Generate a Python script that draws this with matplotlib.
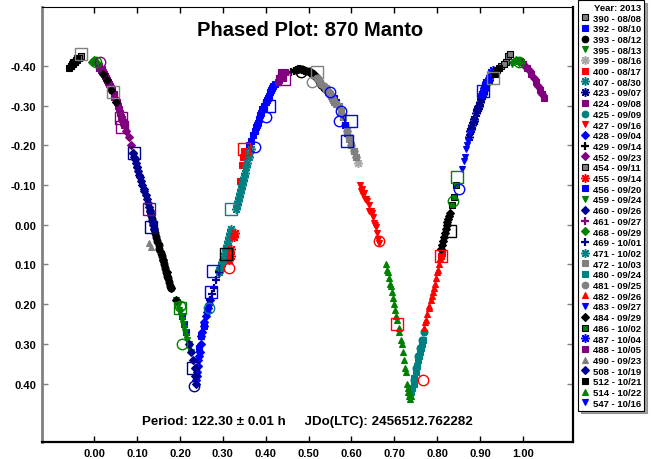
import matplotlib

matplotlib.use("Agg")
import matplotlib.pyplot as plt
from matplotlib.ticker import FormatStrFormatter

plt.rcParams["font.family"] = ["Liberation Sans", "DejaVu Sans"]
plt.rcParams["font.weight"] = "bold"

TITLE = "Phased Plot: 870 Manto"
NOTE = "Period: 122.30 \u00b1 0.01 h     JDo(LTC): 2456512.762282"
LEGEND_TITLE = "Year: 2013"

# session number -> observing date
sessions = ["390", "392", "393", "395", "399", "400", "407", "423", "424", "425",
            "427", "428", "429", "452", "454", "455", "456", "459", "460", "461",
            "468", "469", "471", "472", "480", "481", "482", "483", "484", "486",
            "487", "488", "490", "508", "512", "514", "547"]
dates = ["08/08", "08/10", "08/12", "08/13", "08/16", "08/17", "08/30", "09/07", "09/08", "09/09",
         "09/16", "09/04", "09/14", "09/23", "09/11", "09/14", "09/20", "09/24", "09/26", "09/27",
         "09/29", "10/01", "10/02", "10/03", "09/24", "09/25", "09/26", "09/27", "09/29", "10/02",
         "10/04", "10/05", "09/23", "10/19", "10/21", "10/22", "10/16"]

# phase / magnitude readings per session
p390 = [-0.032, -0.036, -0.040, 0.960, 0.965, 0.970]
m390 = [-0.425, -0.420, -0.415, -0.410, -0.425, -0.430]
p392 = [0.205, 0.210, 0.215, 0.245, 0.250, 0.255, 0.380, 0.385, 0.390, 0.395, 0.400, 0.405, 0.410, 0.415,
        0.382, 0.387, 0.392, 0.397, 0.402, 0.407, 0.412, 0.418, 0.422, 0.362, 0.366, 0.370, 0.374, 0.378]
m392 = [0.230, 0.250, 0.270, 0.310, 0.280, 0.255, -0.250, -0.265, -0.280, -0.295, -0.310, -0.320, -0.335, -0.345,
        -0.255, -0.275, -0.290, -0.300, -0.315, -0.325, -0.340, -0.350, -0.355, -0.200, -0.210, -0.225, -0.235, -0.245]
p393 = [0.130, 0.135, 0.140, 0.145, 0.150, 0.155, 0.160, 0.165, 0.170, 0.175, 0.180,
        0.132, 0.137, 0.142, 0.147, 0.152, 0.157, 0.162, 0.167, 0.172, 0.177,
        0.470, 0.480, 0.490, 0.500, 0.505, 0.510, 0.515, 0.520, 0.525, 0.530, 0.535,
        0.475, 0.485, 0.495, 0.5025, 0.5075, 0.5125, 0.5175, 0.5225, 0.5275]
m393 = [-0.035, -0.015, 0.010, 0.030, 0.050, 0.070, 0.090, 0.110, 0.130, 0.145, 0.160,
        -0.025, -0.005, 0.020, 0.040, 0.060, 0.080, 0.100, 0.120, 0.135, 0.155,
        -0.390, -0.392, -0.390, -0.386, -0.383, -0.380, -0.375, -0.370, -0.362, -0.352, -0.345,
        -0.392, -0.392, -0.388, -0.385, -0.382, -0.378, -0.372, -0.366, -0.357]
p395 = [0.190, 0.195, 0.200, 0.205, 0.210, 0.215, 0.220, 0.225, 0.192, 0.197, 0.202, 0.207, 0.212, 0.217, 0.222]
m395 = [0.190, 0.205, 0.220, 0.240, 0.260, 0.280, 0.300, 0.320, 0.195, 0.215, 0.230, 0.250, 0.270, 0.290, 0.310]
p399 = [0.585, 0.590, 0.595, 0.600, 0.605, 0.610, 0.615]
m399 = [-0.250, -0.235, -0.220, -0.200, -0.185, -0.170, -0.155]
p400 = [0.340, 0.345, 0.348, 0.350, 0.808, 0.812]
m400 = [-0.110, -0.150, -0.170, -0.185, 0.080, 0.070]
p407 = [0.290, 0.295, 0.300, 0.305, 0.310, 0.315, 0.320, 0.292, 0.297, 0.302, 0.307, 0.312, 0.317]
m407 = [0.120, 0.105, 0.090, 0.070, 0.050, 0.030, 0.010, 0.115, 0.095, 0.080, 0.060, 0.040, 0.020]
p423 = [0.875, 0.880, 0.885, 0.890, 0.895, 0.900, 0.905, 0.910, 0.915, 0.920,
        0.877, 0.882, 0.887, 0.892, 0.897, 0.902, 0.907, 0.912]
m423 = [-0.220, -0.240, -0.260, -0.280, -0.295, -0.310, -0.325, -0.340, -0.355, -0.365,
        -0.235, -0.250, -0.265, -0.290, -0.300, -0.320, -0.330, -0.350]
p424 = [0.010, 0.015, 0.020, 0.025, 0.030, 0.035, 0.040, 0.045, 0.050, 0.055, 0.060, 0.065, 0.070,
        0.012, 0.017, 0.022, 0.027, 0.032, 0.037, 0.042, 0.047, 0.052, 0.057, 0.062, 0.067,
        0.430, 0.435, 0.440, 1.010, 1.020, 1.030, 1.040, 1.050]
m424 = [-0.400, -0.390, -0.385, -0.375, -0.365, -0.355, -0.345, -0.330, -0.315, -0.300, -0.280, -0.265, -0.250,
        -0.395, -0.392, -0.380, -0.370, -0.360, -0.350, -0.340, -0.322, -0.308, -0.290, -0.272, -0.258,
        -0.365, -0.385, -0.370, -0.395, -0.380, -0.360, -0.340, -0.320]
p425 = [0.745, 0.750, 0.755, 0.760, 0.765, 0.770]
m425 = [0.390, 0.360, 0.330, 0.310, 0.290, 0.270]
p427 = [0.620, 0.625, 0.630, 0.635, 0.640, 0.645, 0.650, 0.655, 0.660,
        0.622, 0.627, 0.632, 0.637, 0.642, 0.647, 0.652, 0.657, 0.662, 0.665]
m427 = [-0.100, -0.090, -0.080, -0.065, -0.050, -0.035, -0.020, 0.000, 0.020,
        -0.085, -0.075, -0.065, -0.060, -0.035, -0.030, -0.005, 0.005, 0.035, 0.045]
p428 = [0.238, 0.240, 0.243, 0.246, 0.250, 0.255, 0.260, 0.265, 0.270,
        0.239, 0.242, 0.245, 0.248, 0.252, 0.257, 0.262, 0.267]
m428 = [0.390, 0.370, 0.340, 0.320, 0.280, 0.255, 0.230, 0.210, 0.190,
        0.380, 0.355, 0.330, 0.300, 0.270, 0.245, 0.220, 0.200]
p429 = [0.460, 0.465, 0.470, 0.475, 0.480, 0.485, 0.490]
m429 = [-0.385, -0.388, -0.390, -0.392, -0.392, -0.390, -0.388]
p452 = [0.070, 0.075, 0.080, 0.085, 0.090, 0.095, 0.100, 1.000, 1.005, 1.015, 1.025, 1.035, 1.045]
m452 = [-0.250, -0.235, -0.220, -0.200, -0.180, -0.165, -0.145, -0.405, -0.400, -0.390, -0.370, -0.350, -0.330]
p454 = [-0.055, -0.050, -0.045, 0.950, 0.955]
m454 = [-0.400, -0.405, -0.410, -0.400, -0.405]
p455 = [0.315, 0.318, 0.320, 0.325, 0.328]
m455 = [0.090, 0.080, 0.060, 0.030, 0.020]
p456 = [0.560, 0.565, 0.570, 0.575, 0.580, 0.585, 0.590]
m456 = [-0.320, -0.310, -0.300, -0.285, -0.270, -0.250, -0.230]
p459 = [0.975, 0.980, 0.985, 0.990, 0.995, 0.000, 0.005]
m459 = [-0.405, -0.410, -0.412, -0.412, -0.410, -0.410, -0.405]
p460 = [0.090, 0.095, 0.100, 0.105, 0.110, 0.115, 0.120, 0.125, 0.130, 0.135, 0.140,
        0.092, 0.097, 0.102, 0.107, 0.112, 0.117, 0.122, 0.127, 0.132, 0.137]
m460 = [-0.180, -0.165, -0.145, -0.125, -0.110, -0.090, -0.075, -0.055, -0.035, -0.010, 0.010,
        -0.170, -0.155, -0.135, -0.120, -0.100, -0.085, -0.065, -0.045, -0.025, 0.000]
p461 = [1.000, 1.010, 1.020, 1.030, 1.040, 1.045, 0.005, 0.015, 0.025]
m461 = [-0.410, -0.395, -0.385, -0.365, -0.345, -0.335, -0.405, -0.395, -0.380]
p468 = [-0.005, 0.000, 0.005, 0.985, 0.990]
m468 = [-0.410, -0.415, -0.410, -0.415, -0.410]
p469 = [0.270, 0.275, 0.280, 0.285, 0.290]
m469 = [0.190, 0.175, 0.160, 0.140, 0.120]
p471 = [0.330, 0.335, 0.340, 0.345, 0.350, 0.355, 0.360, 0.365, 0.332, 0.337, 0.342, 0.347, 0.352, 0.357, 0.362]
m471 = [-0.040, -0.060, -0.080, -0.100, -0.120, -0.145, -0.170, -0.190, -0.050, -0.070, -0.090, -0.110, -0.130, -0.155, -0.180]
p472 = [0.540, 0.545, 0.550, 0.555, 0.560, 0.570, 0.580, 0.600, 0.610,
        0.542, 0.547, 0.552, 0.557, 0.565, 0.575, 0.590, 0.595, 0.605]
m472 = [-0.345, -0.335, -0.330, -0.320, -0.310, -0.300, -0.270, -0.200, -0.170,
        -0.340, -0.332, -0.325, -0.315, -0.305, -0.285, -0.235, -0.215, -0.185]
p480 = [0.740, 0.745, 0.750, 0.755, 0.760, 0.765, 0.295, 0.300, 0.742, 0.747, 0.752, 0.757, 0.762, 0.767]
m480 = [0.420, 0.400, 0.370, 0.340, 0.320, 0.300, 0.110, 0.090, 0.410, 0.385, 0.355, 0.330, 0.310, 0.290]
p481 = [0.520, 0.525, 0.530, 0.535, 0.540]
m481 = [-0.370, -0.365, -0.355, -0.350, -0.340]
p482 = [0.770, 0.775, 0.780, 0.785, 0.790, 0.795, 0.800, 0.805, 0.810,
        0.772, 0.777, 0.782, 0.787, 0.792, 0.797, 0.802, 0.807]
m482 = [0.260, 0.240, 0.210, 0.190, 0.170, 0.150, 0.120, 0.100, 0.070,
        0.245, 0.225, 0.205, 0.180, 0.160, 0.135, 0.115, 0.085]
p483 = [0.858, 0.862, 0.868, 0.872]
m483 = [-0.140, -0.160, -0.190, -0.210]
p484 = [0.810, 0.814, 0.818, 0.822, 0.826, 0.830, 0.812, 0.816, 0.820, 0.824, 0.828,
        0.160, 0.170, 0.180, 0.190, 0.020, 0.030, 0.040, 0.050]
m484 = [0.060, 0.040, 0.020, 0.000, -0.015, -0.030, 0.050, 0.030, 0.010, -0.008, -0.022,
        0.090, 0.120, 0.160, 0.190, -0.380, -0.365, -0.340, -0.310]
p486 = [0.835, 0.840, 0.845]
m486 = [-0.050, -0.070, -0.100]
p487 = [0.905, 0.910, 0.915, 0.920, 0.925, 0.930]
m487 = [-0.330, -0.345, -0.360, -0.370, -0.385, -0.390]
p488 = [0.428, 0.432, 0.436, 0.440, 0.444]
m488 = [-0.360, -0.370, -0.375, -0.380, -0.385]
p490 = [0.128, 0.132]
m490 = [0.045, 0.055]
p508 = [0.222, 0.226, 0.230, 0.234, 0.236, 0.238]
m508 = [0.300, 0.320, 0.340, 0.360, 0.380, 0.400]
p512 = [-0.058, -0.055, -0.052, -0.049, -0.046, -0.043, -0.040, 0.935, 0.940, 0.945]
m512 = [-0.395, -0.400, -0.405, -0.410, -0.410, -0.415, -0.420, -0.380, -0.390, -0.395]
p514 = [0.680, 0.685, 0.690, 0.695, 0.700, 0.705, 0.710, 0.715, 0.720, 0.725, 0.730, 0.733, 0.736, 0.739,
        0.682, 0.687, 0.692, 0.697, 0.702, 0.707, 0.712, 0.717, 0.722, 0.727, 0.731, 0.734, 0.737]
m514 = [0.100, 0.120, 0.150, 0.170, 0.200, 0.230, 0.260, 0.290, 0.320, 0.360, 0.400, 0.420, 0.440, 0.430,
        0.115, 0.135, 0.155, 0.185, 0.215, 0.240, 0.270, 0.300, 0.340, 0.370, 0.410, 0.430, 0.425]
p547 = [0.864, 0.870, 0.876]
m547 = [-0.170, -0.200, -0.230]

# larger open symbols (session, phase, mag)
ring_session = ["452", "468", "395", "425", "508", "455", "392", "392", "393", "481",
                "392", "392", "392", "427", "427", "486", "392", "468", "468"]
ring_phase = [0.013, 0.003, 0.205, 0.267, 0.233, 0.314, 0.400, 0.376, 0.482, 0.509,
              0.551, 0.575, 0.572, 0.664, 0.766, 0.838, 0.850, 0.990, 0.200]
ring_mag = [-0.410, -0.410, 0.300, 0.210, 0.405, 0.110, -0.270, -0.195, -0.384, -0.360,
            -0.333, -0.286, -0.260, 0.040, 0.390, -0.060, -0.090, -0.410, 0.205]
box_session = ["454", "424", "424", "460", "424", "460", "395", "508", "392", "392",
               "512", "480", "400", "488", "392", "454", "392", "392", "400", "486",
               "512", "392", "454", "400", "390"]
box_phase = [0.044, 0.062, 0.065, 0.093, 0.128, 0.132, 0.200, 0.230, 0.272, 0.277,
             0.307, 0.318, 0.350, 0.442, 0.407, 0.520, 0.598, 0.590, 0.707, 0.847,
             0.830, 0.908, 0.930, 0.810, -0.031]
box_mag = [-0.335, -0.268, -0.245, -0.180, -0.040, 0.006, 0.210, 0.360, 0.170, 0.117,
           0.074, -0.040, -0.190, -0.367, -0.300, -0.384, -0.260, -0.210, 0.250, -0.120,
           0.016, -0.336, -0.370, 0.080, -0.430]

GRAY, LGRAY, BLUE, NAVY = "#808080", "#a8a8a8", "#0000ff", "#000090"
RED, GREEN, TEAL, PURPLE = "#ff0000", "#008000", "#008080", "#800080"
AST = (8, 2, 0)

# marker, face colour, edge colour
style = {
    "390": ("s", GRAY, "black"), "392": ("s", BLUE, BLUE), "393": ("o", "black", "black"),
    "395": ("v", GREEN, GREEN), "399": (AST, LGRAY, LGRAY), "400": ("s", RED, RED),
    "407": (AST, TEAL, TEAL), "423": (AST, NAVY, NAVY), "424": ("s", PURPLE, PURPLE),
    "425": ("o", TEAL, TEAL), "427": ("v", RED, RED), "428": ("D", BLUE, BLUE),
    "429": ("+", "black", "black"), "452": ("D", PURPLE, PURPLE), "454": ("s", GRAY, "black"),
    "455": (AST, RED, RED), "456": ("s", BLUE, BLUE), "459": ("v", GREEN, GREEN),
    "460": ("D", NAVY, NAVY), "461": ("+", PURPLE, PURPLE), "468": ("D", GREEN, GREEN),
    "469": ("+", NAVY, NAVY), "471": (AST, TEAL, TEAL), "472": ("s", GRAY, GRAY),
    "480": ("s", TEAL, TEAL), "481": ("o", GRAY, GRAY), "482": ("^", RED, RED),
    "483": ("v", BLUE, BLUE), "484": ("D", "black", "black"), "486": ("s", GREEN, "black"),
    "487": (AST, BLUE, BLUE), "488": ("s", PURPLE, PURPLE), "490": ("^", GRAY, GRAY),
    "508": ("D", NAVY, NAVY), "512": ("s", "black", "black"), "514": ("^", GREEN, GREEN),
    "547": ("v", BLUE, BLUE),
}

data = {s: (globals()["p" + s], globals()["m" + s]) for s in sessions}

fig = plt.figure(figsize=(6.51, 4.60), dpi=100)
ax = fig.add_axes([42 / 651, 17 / 460, 531 / 651, 435 / 460])

for s, d in zip(sessions, dates):
    mk, fc, ec = style[s]
    ph, mg = data[s]
    if mk == AST:
        ms, mew = 6.5, 1.1
    elif mk == "+":
        ms, mew = 5.5, 1.6
    elif mk == "D":
        ms, mew = 4.0, 0.8
    else:
        ms, mew = 5.0, 0.8
    ax.plot(ph, mg, linestyle="none", marker=mk, ms=ms, mfc=fc, mec=ec, mew=mew,
            label=f"{s} - {d}")

for s, x, y in zip(ring_session, ring_phase, ring_mag):
    col = style[s][2] if style[s][2] != "black" else style[s][1]
    ax.plot(x, y, linestyle="none", marker="o", ms=7.5, mfc="none", mec=col, mew=1.0)
for s, x, y in zip(box_session, box_phase, box_mag):
    ax.plot(x, y, linestyle="none", marker="s", ms=8, mfc="none", mec=style[s][1], mew=1.0)

ax.set_xlim(-0.122, 1.117)
ax.set_ylim(0.547, -0.548)
ax.set_xticks([i / 10 for i in range(11)])
ax.set_yticks([i / 10 for i in range(-4, 5)])
ax.xaxis.set_major_formatter(FormatStrFormatter("%.2f"))
ax.yaxis.set_major_formatter(FormatStrFormatter("%.2f"))
ax.tick_params(direction="in", top=True, right=True, length=4, width=1, labelsize=8, pad=4)
ax.tick_params(axis="y", colors=GRAY, labelcolor="black")
for lab in ax.get_xticklabels() + ax.get_yticklabels():
    lab.set_fontweight("bold")

ax.spines["left"].set_color(GRAY)
ax.spines["left"].set_linewidth(2)
ax.spines["bottom"].set_linewidth(1.6)
ax.spines["right"].set_linewidth(1.6)
ax.spines["top"].set_linewidth(0.8)

ax.text(0.505, 0.949, TITLE, transform=ax.transAxes, ha="center", va="center",
        fontsize=14.5, fontweight="bold")
ax.text(0.499, 0.048, NOTE, transform=ax.transAxes, ha="center", va="center",
        fontsize=9.6, fontweight="bold")

leg = fig.legend(loc="upper left", bbox_to_anchor=(578 / 651, 1 - 1 / 460), title=LEGEND_TITLE,
                 alignment="right", fontsize=6.8, title_fontproperties={"weight": "bold", "size": 6.8},
                 handlelength=0.9, handletextpad=0.4, labelspacing=0.18, borderpad=0.3,
                 borderaxespad=0, frameon=True, fancybox=False, shadow=True, framealpha=1,
                 edgecolor="black", markerscale=0.95)
leg.get_frame().set_linewidth(0.8)
for t in leg.get_texts():
    t.set_fontweight("bold")

fig.savefig("out.png", dpi=100)
